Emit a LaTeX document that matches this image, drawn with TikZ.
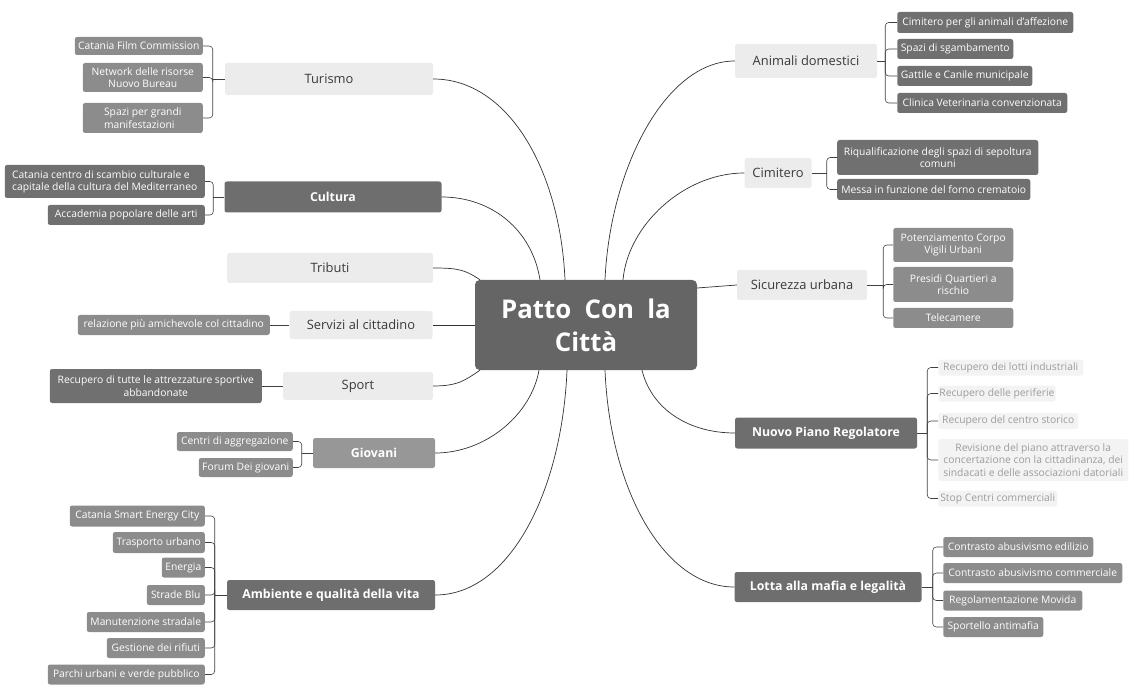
\documentclass[tikz,border=0pt]{standalone}
\usepackage{fontspec}
\setmainfont{Open Sans}
\usetikzlibrary{calc}
\definecolor{ccentre}{HTML}{656565}
\definecolor{cfonce}{HTML}{6E6E6E}
\definecolor{cmoyen}{HTML}{979797}
\definecolor{cclair}{HTML}{ECECEC}
\definecolor{ctexte}{HTML}{3A3A3A}
\definecolor{cfeuille}{HTML}{8C8C8C}
\definecolor{cfeuillef}{HTML}{707070}
\definecolor{cpale}{HTML}{F3F3F3}
\definecolor{ctpale}{HTML}{9C9C9C}
\begin{document}
\begin{tikzpicture}[x=0.03cm,y=-0.03cm,
    taille/.style 2 args={minimum width=#1*0.03cm,minimum height=#2*0.03cm},
    centre/.style={fill=ccentre,text=white,rounded corners=4pt,align=center,
      font=\bfseries\fontsize{22}{28}\selectfont,taille={222}{90}},
    brclair/.style={fill=cclair,text=ctexte,rounded corners=2pt,inner sep=2pt,
      font=\fontsize{11}{13}\selectfont},
    brfonce/.style={fill=cfonce,text=white,rounded corners=2pt,inner sep=2pt,
      font=\bfseries\fontsize{10.5}{13}\selectfont},
    brmoyen/.style={brfonce,fill=cmoyen},
    feuille/.style={fill=cfeuille,text=white,rounded corners=2pt,inner sep=1pt,
      align=center,font=\fontsize{8.8}{10.5}\selectfont},
    fonce/.style={fill=cfeuillef},
    pale/.style={fill=cpale,text=ctpale},
    lien/.style={draw=black!80,line width=0.6pt},
    accol/.style={draw=black!75,line width=0.5pt,rounded corners=3pt}]
  \useasboundingbox (0,0) rectangle (1133,685);
  % noeud central
  \node[centre] (centre) at (586,325) {Patto~ Con~ la\\Città};
  % branches gauche
  \node[brclair,taille={208}{32}] (turismo) at (329,79) {Turismo};
  \node[brfonce,taille={217}{31}] (cultura) at (333,197) {Cultura};
  \node[brclair,taille={206}{30}] (tributi) at (330,268) {Tributi};
  \node[brclair,taille={143}{28}] (servizi) at (361,325) {Servizi al cittadino};
  \node[brclair,taille={150}{28}] (sport) at (358,386) {Sport};
  \node[brmoyen,taille={122}{30}] (giovani) at (374,453) {Giovani};
  \node[brfonce,taille={208}{30}] (ambiente) at (331,595) {Ambiente e qualità della vita};
  % branches droite
  \node[brclair,taille={142}{34}] (animali) at (806,61) {Animali domestici};
  \node[brclair,taille={67}{30}] (cimitero) at (778,173) {Cimitero};
  \node[brclair,taille={130}{30}] (sicurezza) at (802,285) {Sicurezza urbana};
  \node[brfonce,taille={182}{31}] (piano) at (826,433) {Nuovo Piano Regolatore};
  \node[brfonce,taille={187}{30}] (mafia) at (828,587) {Lotta alla mafia e legalità};
  % liens vers le centre
  \draw[lien] ($(centre.north)+(-106,0)$) .. controls +(-15,-10) and +(25,0) .. (tributi.east);
  \draw[lien] ($(centre.north)+(-46,0)$) .. controls +(-8,-50) and +(50,0) .. (cultura.east);
  \draw[lien] ($(centre.north)+(-21,0)$) .. controls +(-5,-110) and +(75,0) .. (turismo.east);
  \draw[lien] ($(centre.north)+(19,0)$) .. controls +(5,-110) and +(-70,0) .. (animali.west);
  \draw[lien] ($(centre.north)+(37,0)$) .. controls +(5,-55) and +(-60,0) .. (cimitero.west);
  \draw[lien] (centre.west) -- (servizi.east);
  \draw[lien] ($(centre.east)+(0,-37)$) -- (sicurezza.west);
  \draw[lien] ($(centre.south)+(-106,0)$) .. controls +(-15,10) and +(25,0) .. (sport.east);
  \draw[lien] ($(centre.south)+(-47,0)$) .. controls +(-8,45) and +(50,0) .. (giovani.east);
  \draw[lien] ($(centre.south)+(-19,0)$) .. controls +(-5,120) and +(75,0) .. (ambiente.east);
  \draw[lien] ($(centre.south)+(19,0)$) .. controls +(5,120) and +(-70,0) .. (mafia.west);
  \draw[lien] ($(centre.south)+(56,0)$) .. controls +(10,40) and +(-45,0) .. (piano.west);
  % feuilles gauche
  \node[feuille,anchor=east,taille={128}{18}] (tu1) at (203,46) {Catania Film Commission};
  \node[feuille,anchor=east,taille={120}{29}] (tu2) at (203,77.5) {Network delle risorse\\Nuovo Bureau};
  \node[feuille,anchor=east,taille={120}{30},align=left] (tu3) at (203,118) {Spazi per grandi\\manifestazioni};
  \node[feuille,fonce,anchor=east,taille={200}{33},align=left] (cu1) at (205,181.5) {Catania centro di scambio culturale e\\capitale della cultura del Mediterraneo};
  \node[feuille,fonce,anchor=east,taille={157}{20}] (cu2) at (205,215) {Accademia popolare delle arti};
  \node[feuille,anchor=east,taille={192}{20}] (se1) at (270,325) {relazione più amichevole col cittadino};
  \node[feuille,fonce,anchor=east,taille={212}{34}] (sp1) at (262,386) {Recupero di tutte le attrezzature sportive\\abbandonate};
  \node[feuille,anchor=east,taille={116}{19}] (gi1) at (293,441.5) {Centri di aggregazione};
  \node[feuille,anchor=east,taille={94}{19}] (gi2) at (293,467.5) {Forum Dei giovani};
  \node[feuille,anchor=east,taille={135}{21}] (am1) at (205,516) {Catania Smart Energy City};
  \node[feuille,anchor=east,taille={92}{21}] (am2) at (205,542.5) {Trasporto urbano};
  \node[feuille,anchor=east,taille={43}{20}] (am3) at (205,567.5) {Energia};
  \node[feuille,anchor=east,taille={58}{20}] (am4) at (205,595) {Strade Blu};
  \node[feuille,anchor=east,taille={118}{20}] (am5) at (205,622) {Manutenzione stradale};
  \node[feuille,anchor=east,taille={98}{20}] (am6) at (205,648) {Gestione dei rifiuti};
  \node[feuille,anchor=east,taille={157}{20}] (am7) at (205,674.5) {Parchi urbani e verde pubblico};
  % feuilles droite
  \node[feuille,fonce,anchor=west,taille={176}{21}] (an1) at (897,22.5) {Cimitero per gli animali d'affezione};
  \node[feuille,fonce,anchor=west,taille={116}{20}] (an2) at (897,49) {Spazi di sgambamento};
  \node[feuille,fonce,anchor=west,taille={135}{20}] (an3) at (897,76) {Gattile e Canile municipale};
  \node[feuille,fonce,anchor=west,taille={170}{20}] (an4) at (897,103) {Clinica Veterinaria convenzionata};
  \node[feuille,fonce,anchor=west,taille={201}{35}] (ci1) at (837,157.5) {Riqualificazione degli spazi di sepoltura\\comuni};
  \node[feuille,fonce,anchor=west,taille={193}{21}] (ci2) at (837,189.5) {Messa in funzione del forno crematoio};
  \node[feuille,anchor=west,taille={120}{34}] (si1) at (893,245) {Potenziamento Corpo\\Vigili Urbani};
  \node[feuille,anchor=west,taille={120}{35}] (si2) at (893,284.5) {Presidi Quartieri a\\rischio};
  \node[feuille,anchor=west,taille={120}{20}] (si3) at (893,318) {Telecamere};
  \node[feuille,pale,anchor=west,taille={145}{16}] (pi1) at (938,367.5) {Recupero dei lotti industriali};
  \node[feuille,pale,anchor=west,taille={115}{16}] (pi2) at (938,393.5) {Recupero delle periferie};
  \node[feuille,pale,anchor=west,taille={140}{16}] (pi3) at (938,421) {Recupero del centro storico};
  \node[feuille,pale,anchor=west,taille={190}{42}] (pi4) at (938,460) {Revisione del piano attraverso la\\concertazione con la cittadinanza, dei\\sindacati e delle associazioni datoriali};
  \node[feuille,pale,anchor=west,taille={119}{16}] (pi5) at (938,498.5) {Stop Centri commerciali};
  \node[feuille,anchor=west,taille={150}{20}] (ma1) at (943,547) {Contrasto abusivismo edilizio};
  \node[feuille,anchor=west,taille={179}{20}] (ma2) at (943,573) {Contrasto abusivismo commerciale};
  \node[feuille,anchor=west,taille={139}{20}] (ma3) at (943,600.5) {Regolamentazione Movida};
  \node[feuille,anchor=west,taille={100}{20}] (ma4) at (943,627) {Sportello antimafia};
  % accolades
  \draw[accol] (turismo.west) -- ++(-12,0) coordinate (bt);
  \foreach \f in {tu1,tu2,tu3} \draw[accol] (bt) |- (\f.east);
  \draw[accol] (cultura.west) -- ++(-11,0) coordinate (bc);
  \foreach \f in {cu1,cu2} \draw[accol] (bc) |- (\f.east);
  \draw[accol] (servizi.west) -- (se1.east);
  \draw[accol] (sport.west) -- (sp1.east);
  \draw[accol] (giovani.west) -- ++(-11,0) coordinate (bg);
  \foreach \f in {gi1,gi2} \draw[accol] (bg) |- (\f.east);
  \draw[accol] (ambiente.west) -- ++(-12,0) coordinate (ba);
  \foreach \f in {am1,am2,am3,am4,am5,am6,am7} \draw[accol] (ba) |- (\f.east);
  \draw[accol] (animali.east) -- ++(8,0) coordinate (bd);
  \foreach \f in {an1,an2,an3,an4} \draw[accol] (bd) |- (\f.west);
  \draw[accol] (cimitero.east) -- ++(15,0) coordinate (bm);
  \foreach \f in {ci1,ci2} \draw[accol] (bm) |- (\f.west);
  \draw[accol] (sicurezza.east) -- ++(16,0) coordinate (bs);
  \foreach \f in {si1,si2,si3} \draw[accol] (bs) |- (\f.west);
  \draw[accol] (piano.east) -- ++(10,0) coordinate (bp);
  \foreach \f in {pi1,pi2,pi3,pi4,pi5} \draw[accol] (bp) |- (\f.west);
  \draw[accol] (mafia.east) -- ++(11,0) coordinate (bl);
  \foreach \f in {ma1,ma2,ma3,ma4} \draw[accol] (bl) |- (\f.west);
\end{tikzpicture}
\end{document}
